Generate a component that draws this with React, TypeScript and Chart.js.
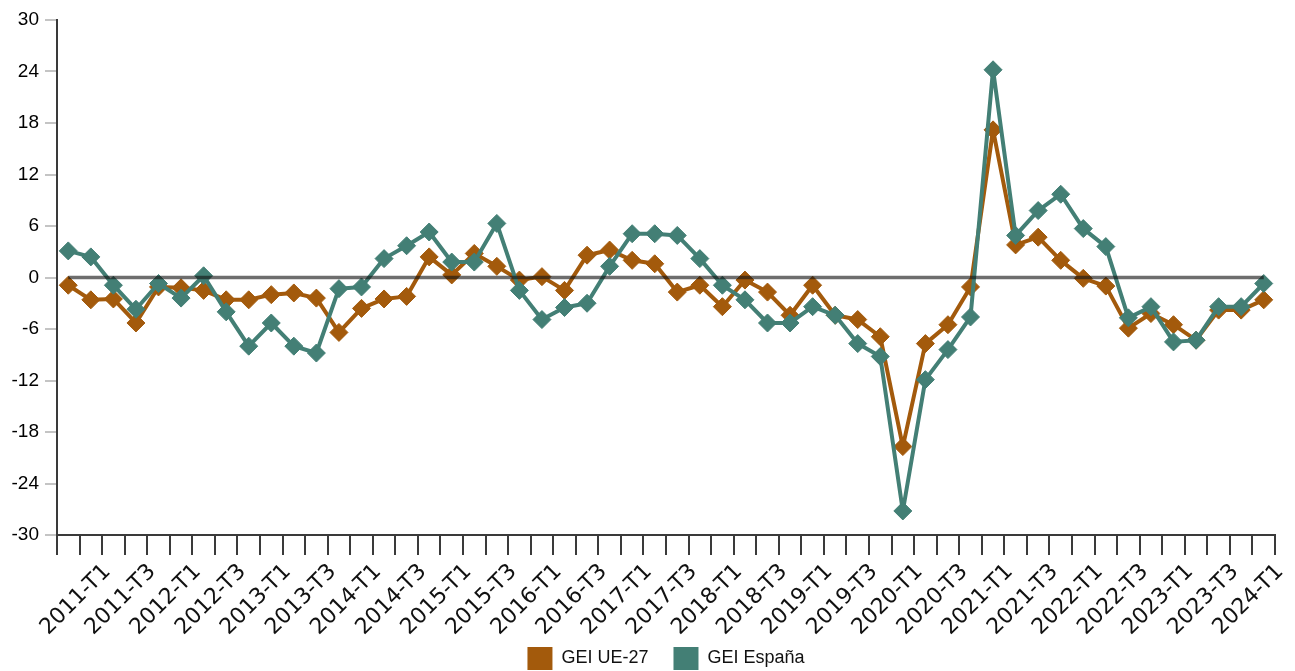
import { useEffect, useRef } from "react";
import { Chart, registerables } from "chart.js";

Chart.register(...registerables);

const quarters: string[] = [
  "2011-T1", "2011-T2", "2011-T3", "2011-T4",
  "2012-T1", "2012-T2", "2012-T3", "2012-T4",
  "2013-T1", "2013-T2", "2013-T3", "2013-T4",
  "2014-T1", "2014-T2", "2014-T3", "2014-T4",
  "2015-T1", "2015-T2", "2015-T3", "2015-T4",
  "2016-T1", "2016-T2", "2016-T3", "2016-T4",
  "2017-T1", "2017-T2", "2017-T3", "2017-T4",
  "2018-T1", "2018-T2", "2018-T3", "2018-T4",
  "2019-T1", "2019-T2", "2019-T3", "2019-T4",
  "2020-T1", "2020-T2", "2020-T3", "2020-T4",
  "2021-T1", "2021-T2", "2021-T3", "2021-T4",
  "2022-T1", "2022-T2", "2022-T3", "2022-T4",
  "2023-T1", "2023-T2", "2023-T3", "2023-T4",
  "2024-T1", "2024-T2",
];

const geiUE27: number[] = [
  -0.9, -2.6, -2.5, -5.3, -1.1, -1.2, -1.5, -2.6, -2.6, -2.0, -1.8, -2.4,
  -6.4, -3.6, -2.5, -2.2, 2.4, 0.3, 2.8, 1.3, -0.3, 0.1, -1.5, 2.6, 3.2, 2.0, 1.6,
  -1.7, -0.9, -3.4, -0.3, -1.7, -4.4, -0.9, -4.4, -4.9, -6.9,
  -19.7, -7.7, -5.5, -1.1, 17.2, 3.8, 4.7, 2.0, -0.1, -1.0, -5.9, -4.2, -5.5, -7.3, -3.8, -3.8, -2.6,
];

const geiEspana: number[] = [
  3.1, 2.4, -0.9, -3.7, -0.7, -2.4, 0.2, -4.0, -8.0, -5.3, -8.0, -8.8,
  -1.3, -1.1, 2.2, 3.7, 5.3, 1.8, 1.8, 6.3, -1.5, -4.9, -3.5, -3.0, 1.3, 5.1, 5.1,
  4.9, 2.2, -0.9, -2.6, -5.3, -5.3, -3.4, -4.4, -7.7, -9.2,
  -27.2, -11.9, -8.4, -4.6, 24.2, 4.9, 7.8, 9.7, 5.7, 3.6, -4.7, -3.4, -7.5, -7.3, -3.4, -3.4, -0.7,
];

const seriesNames: string[] = ["GEI UE-27", "GEI España"];
const yMin = -30;
const yMax = 30;
const yStep = 6;

const ORANGE = "#A35A0C";
const TEAL = "#437F75";

const zeroLinePlugin = {
  id: "zeroLine",
  afterDatasetsDraw(chart: any) {
    const x = chart.scales.x;
    const y = chart.scales.y;
    const py = y.getPixelForValue(0);
    const x0 = x.getPixelForValue(0);
    const x1 = x.getPixelForValue(quarters.length - 1);
    const ctx = chart.ctx;
    ctx.save();
    ctx.strokeStyle = "rgba(20,20,20,0.62)";
    ctx.lineWidth = 3.5;
    ctx.beginPath();
    ctx.moveTo(x0, py);
    ctx.lineTo(x1, py);
    ctx.stroke();
    ctx.restore();
  },
};

export default function App() {
  const canvasRef = useRef<HTMLCanvasElement | null>(null);

  useEffect(() => {
    if (!canvasRef.current) return;
    const common = {
      borderWidth: 4,
      borderJoinStyle: "round" as const,
      pointStyle: "rectRot" as const,
      pointRadius: 9,
      pointBorderWidth: 1,
      tension: 0,
    };
    const chart = new Chart(canvasRef.current, {
      type: "line",
      data: {
        labels: quarters,
        datasets: [
          {
            ...common,
            label: seriesNames[0],
            data: geiUE27,
            borderColor: ORANGE,
            backgroundColor: ORANGE,
            pointBackgroundColor: ORANGE,
            pointBorderColor: ORANGE,
            order: 2,
          },
          {
            ...common,
            label: seriesNames[1],
            data: geiEspana,
            borderColor: TEAL,
            backgroundColor: TEAL,
            pointBackgroundColor: TEAL,
            pointBorderColor: TEAL,
            order: 1,
          },
        ],
      },
      options: {
        animation: false,
        responsive: true,
        maintainAspectRatio: false,
        layout: { padding: { top: 20, right: 20, left: 0, bottom: -9 } },
        plugins: {
          tooltip: { enabled: false },
          legend: {
            position: "bottom",
            fullSize: false,
            labels: {
              sort: (a: any, b: any) => a.datasetIndex - b.datasetIndex,
              boxWidth: 25,
              boxHeight: 23,
              padding: 25,
              color: "#111",
              font: { family: "'Liberation Sans', Arial, sans-serif", size: 18 },
              generateLabels: (chart: any) =>
                chart.data.datasets.map((ds: any, i: number) => ({
                  text: ds.label,
                  fillStyle: ds.borderColor,
                  strokeStyle: ds.borderColor,
                  lineWidth: 0,
                  hidden: false,
                  datasetIndex: i,
                  fontColor: "#111",
                })),
            },
          },
        },
        scales: {
          x: {
            type: "category",
            offset: true,
            afterFit: (scale: any) => {
              scale.height = 87;
              // let the rotated labels run below the axis box (into the legend band)
              scale._computeLabelArea = () => undefined;
            },
            grid: {
              offset: true,
              drawOnChartArea: false,
              drawTicks: true,
              tickLength: 20,
              tickColor: "#3a3a3a",
              lineWidth: 2,
            },
            border: { display: true, color: "#3a3a3a", width: 2 },
            ticks: {
              autoSkip: false,
              minRotation: 45,
              maxRotation: 45,
              labelOffset: 39,
              padding: 4,
              color: "#111",
              font: { family: "'DejaVu Sans', sans-serif", size: 22 },
              callback: (_v: any, i: number) => (i % 2 === 0 ? quarters[i] : ""),
            },
          },
          y: {
            min: yMin,
            max: yMax,
            afterFit: (scale: any) => {
              scale.width = 57;
            },
            grid: {
              drawOnChartArea: false,
              drawTicks: true,
              tickLength: 12,
              tickColor: "#c4c4c4",
              lineWidth: 2,
            },
            border: { display: true, color: "#3a3a3a", width: 2 },
            ticks: {
              stepSize: yStep,
              padding: 6,
              color: "#000",
              font: { family: "'Liberation Sans', Arial, sans-serif", size: 19 },
            },
          },
        },
      },
      plugins: [zeroLinePlugin],
    });
    return () => chart.destroy();
  }, []);

  return (
    <div style={{ position: "fixed", left: 0, top: 0, width: 1295, height: 671, background: "#fff" }}>
      <canvas ref={canvasRef} />
    </div>
  );
}
